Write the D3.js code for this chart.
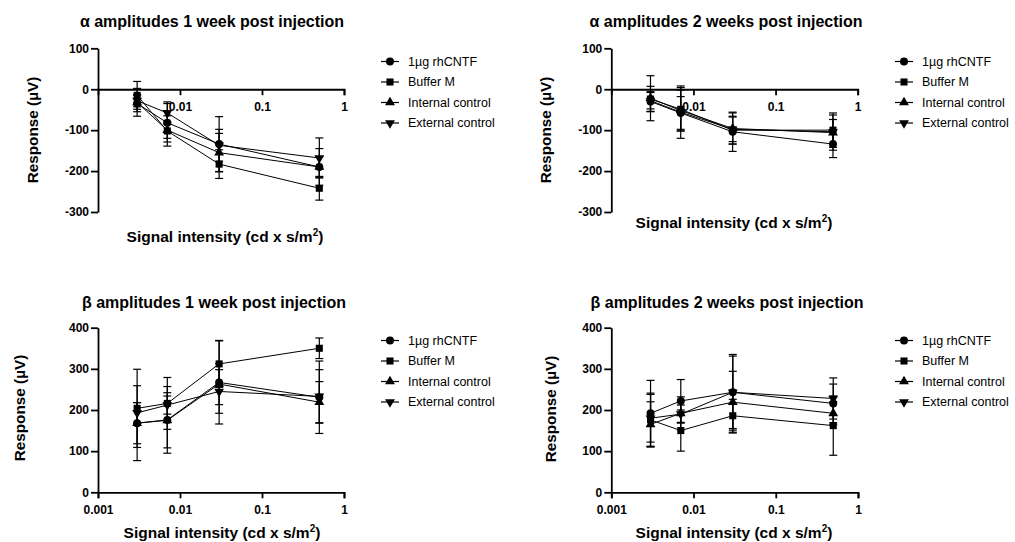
<!DOCTYPE html>
<html>
<head>
<meta charset="utf-8">
<script src="https://cdn.jsdelivr.net/npm/d3@7"></script>
<style>
  body { margin: 0; background: #fff; }
  svg { font-family: "Liberation Sans", Arial, sans-serif; }
  .axis path, .axis line { stroke: #000; stroke-width: 1.8; }
  .axis text { font-size: 12px; font-weight: bold; fill: #000; }
</style>
</head>
<body>
<script>
// light intensities (x) and the four groups
const intensities = [0.003, 0.007, 0.03, 0.5];
const groups = ["1µg rhCNTF", "Buffer M", "Internal control", "External control"];
const xTicks = [0.001, 0.01, 0.1, 1];
const alphaTicks = [100, 0, -100, -200, -300];
const betaTicks = [0, 100, 200, 300, 400];

// means and SD, one row per group
const alpha1wMean = [[-35, -82, -134, -190], [-15, -102, -183, -242], [-32, -100, -155, -190], [-28, -58, -137, -168]];
const alpha1wSd   = [[20, 47, 67, 45], [34, 37, 35, 29], [34, 20, 47, 25], [15, 27, 39, 49]];
const alpha2wMean = [[-30, -58, -104, -134], [-24, -49, -100, -100], [-22, -52, -96, -106], [-28, -56, -98, -104]];
const alpha2wSd   = [[24, 40, 48, 33], [31, 53, 34, 42], [55, 50, 38, 43], [20, 64, 30, 30]];
const beta1wMean  = [[168, 176, 267, 231], [204, 216, 312, 350], [168, 175, 263, 219], [193, 212, 245, 233]];
const beta1wSd    = [[50, 81, 101, 88], [95, 63, 57, 25], [91, 67, 50, 50], [25, 22, 53, 65]];
const beta2wMean  = [[192, 222, 243, 216], [176, 150, 186, 162], [165, 192, 219, 192], [180, 190, 243, 228]];
const beta2wSd    = [[80, 52, 92, 47], [65, 50, 40, 72], [55, 40, 75, 28], [58, 22, 88, 50]];

const symbols = [d3.symbolCircle, d3.symbolSquare, d3.symbolTriangle, d3.symbolTriangle];
const symSize = [50, 50, 42, 42];

const svg = d3.select("body").append("svg")
  .attr("width", 1015).attr("height", 542);

const panels = [
  { title: "α amplitudes 1 week post injection", mean: alpha1wMean, sd: alpha1wSd, ticks: alphaTicks,
    yDom: [-300, 100], x0: 98, x1: 344, yTop: 48.3, yBot: 212,
    titleX: 212, titleY: 27, xtX: 225, xtY: 242, ytX: 32, ytY: 130, legX: 381, legY: 61.5, xLabels: false },
  { title: "α amplitudes 2 weeks post injection", mean: alpha2wMean, sd: alpha2wSd, ticks: alphaTicks,
    yDom: [-300, 100], x0: 611.3, x1: 857.7, yTop: 48.3, yBot: 212,
    titleX: 726, titleY: 27, xtX: 734, xtY: 228, ytX: 545.5, ytY: 130, legX: 895, legY: 61.5, xLabels: false },
  { title: "β amplitudes 1 week post injection", mean: beta1wMean, sd: beta1wSd, ticks: betaTicks,
    yDom: [0, 400], x0: 98, x1: 344, yTop: 327.7, yBot: 492.3,
    titleX: 214, titleY: 308, xtX: 222, xtY: 538, ytX: 19.5, ytY: 408, legX: 381, legY: 340.5, xLabels: true },
  { title: "β amplitudes 2 weeks post injection", mean: beta2wMean, sd: beta2wSd, ticks: betaTicks,
    yDom: [0, 400], x0: 611.3, x1: 858, yTop: 327.7, yBot: 492.3,
    titleX: 727, titleY: 308, xtX: 734, xtY: 538, ytX: 550.5, ytY: 409, legX: 895, legY: 340.5, xLabels: true }
];

function marker(sel, i) {
  sel.append("path")
    .attr("d", d3.symbol().type(symbols[i]).size(symSize[i]))
    .attr("transform", i === 3 ? "rotate(180)" : null)
    .attr("fill", "#000");
}

panels.forEach(p => {
  const g = svg.append("g");
  const x = d3.scaleLog().domain([0.001, 1]).range([p.x0, p.x1]);
  const y = d3.scaleLinear().domain(p.yDom).range([p.yBot, p.yTop]);

  // axes
  g.append("g").attr("class", "axis")
    .attr("transform", `translate(${p.x0},0)`)
    .call(d3.axisLeft(y).tickValues(p.ticks).tickSize(7).tickSizeOuter(0).tickPadding(2).tickFormat(d => String(d)));

  const xAxis = d3.axisBottom(x).tickSizeOuter(0).tickSize(6).tickPadding(7)
    .tickValues(p.xLabels ? xTicks : xTicks.slice(1))
    .tickFormat(d => String(d));
  g.append("g").attr("class", "axis")
    .attr("transform", `translate(0,${y(0)})`)
    .call(xAxis);

  // connecting lines
  const line = d3.line().x((d, i) => x(intensities[i])).y(d => y(d));
  p.mean.forEach(m => {
    g.append("path").attr("d", line(m))
      .attr("fill", "none").attr("stroke", "#000").attr("stroke-width", 1);
  });

  // error bars
  p.mean.forEach((m, s) => {
    m.forEach((v, i) => {
      const cx = x(intensities[i]);
      const lo = y(v - p.sd[s][i]), hi = y(v + p.sd[s][i]);
      g.append("line").attr("x1", cx).attr("x2", cx).attr("y1", lo).attr("y2", hi)
        .attr("stroke", "#000").attr("stroke-width", 1.2);
      [lo, hi].forEach(yy => g.append("line")
        .attr("x1", cx - 4).attr("x2", cx + 4).attr("y1", yy).attr("y2", yy)
        .attr("stroke", "#000").attr("stroke-width", 1.2));
    });
  });

  // markers
  p.mean.forEach((m, s) => {
    m.forEach((v, i) => {
      marker(g.append("g").attr("transform", `translate(${x(intensities[i])},${y(v)})`), s);
    });
  });

  // titles
  g.append("text").attr("x", p.titleX).attr("y", p.titleY)
    .attr("text-anchor", "middle").attr("font-weight", "bold").attr("font-size", 16)
    .text(p.title);

  const xt = g.append("text").attr("x", p.xtX).attr("y", p.xtY)
    .attr("text-anchor", "middle").attr("font-weight", "bold").attr("font-size", 15.5);
  xt.append("tspan").text("Signal intensity (cd x s/m");
  xt.append("tspan").attr("font-size", 10).attr("dy", -6).text("2");
  xt.append("tspan").attr("dy", 6).text(")");

  g.append("text")
    .attr("transform", `translate(${p.ytX},${p.ytY}) rotate(-90)`)
    .attr("text-anchor", "middle").attr("dominant-baseline", "central")
    .attr("font-weight", "bold").attr("font-size", 15.3)
    .text("Response (µV)");

  // legend
  groups.forEach((name, s) => {
    const ly = p.legY + s * 20.5;
    const lg = g.append("g");
    lg.append("line").attr("x1", p.legX).attr("x2", p.legX + 18).attr("y1", ly).attr("y2", ly)
      .attr("stroke", "#000").attr("stroke-width", 1.2);
    marker(lg.append("g").attr("transform", `translate(${p.legX + 9},${ly})`), s);
    lg.append("text").attr("x", p.legX + 27).attr("y", ly)
      .attr("dominant-baseline", "central").attr("font-size", 12.5)
      .text(name);
  });
});
</script>
</body>
</html>
